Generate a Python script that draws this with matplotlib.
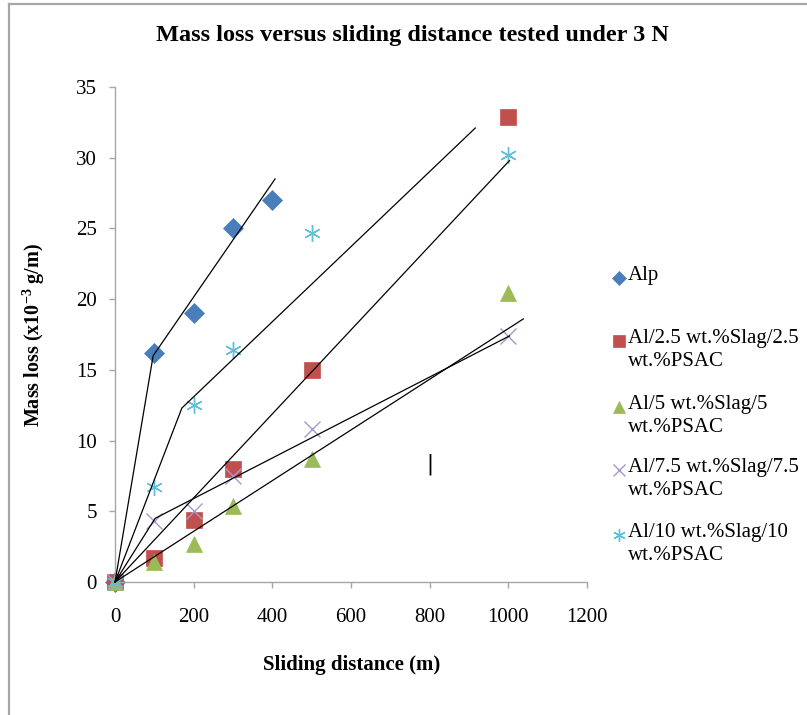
import matplotlib.pyplot as plt
from matplotlib.lines import Line2D

plt.rcParams['font.family'] = ['Liberation Serif', 'DejaVu Serif']
plt.rcParams['mathtext.fontset'] = 'custom'
plt.rcParams['mathtext.rm'] = 'Liberation Serif'
plt.rcParams['mathtext.bf'] = 'Liberation Serif:bold'

# measured points
alp_dist = [0, 100, 200, 300, 400]
alp_loss = [0, 16.2, 19.0, 25.0, 27.0]
dist = [0, 100, 200, 300, 500, 1000]
slag25_loss = [0, 1.7, 4.4, 8.0, 15.0, 32.9]
slag5_loss = [0, 1.4, 2.7, 5.4, 8.7, 20.4]
slag75_loss = [0, 4.3, 5.0, 7.5, 10.8, 17.4]
slag10_loss = [0, 6.7, 12.5, 16.4, 24.7, 30.2]

# hand drawn trend lines
alp_fit_x, alp_fit_y = [0, 97, 407], [0, 16.0, 28.5]
slag25_fit_x, slag25_fit_y = [0, 1003], [0, 29.8]
slag5_fit_x, slag5_fit_y = [0, 1038], [0, 18.6]
slag75_fit_x, slag75_fit_y = [0, 102, 1003], [0, 4.5, 17.4]
slag10_fit_x, slag10_fit_y = [0, 170, 916], [0, 12.3, 32.1]

labels = ['Alp',
          'Al/2.5 wt.%Slag/2.5\nwt.%PSAC',
          'Al/5 wt.%Slag/5\nwt.%PSAC',
          'Al/7.5 wt.%Slag/7.5\nwt.%PSAC',
          'Al/10 wt.%Slag/10\nwt.%PSAC']

series = [
    (alp_dist, alp_loss, 'D', '#4a7ebb', 10, 0),
    (dist, slag25_loss, 's', '#c0504d', 11.5, 0),
    (dist, slag5_loss, '^', '#9bbb59', 11, 0),
    (dist, slag75_loss, 'x', '#a898cc', 11, 1.0),
    (dist, slag10_loss, (6, 2, 0), '#5fbfd8', 12, 1.0),
]
fits = [(alp_fit_x, alp_fit_y), (slag25_fit_x, slag25_fit_y), (slag5_fit_x, slag5_fit_y),
        (slag75_fit_x, slag75_fit_y), (slag10_fit_x, slag10_fit_y)]

fig = plt.figure(figsize=(8.07, 7.15), dpi=100)
ax = fig.add_axes([115 / 807, 1 - 582 / 715, 472 / 807, 495 / 715])

for (x, y, m, c, ms, lw), lab in zip(series, labels):
    ax.plot(x, y, linestyle='none', marker=m, color=c, markersize=ms,
            markeredgewidth=lw if lw else 0.5, markeredgecolor=c, zorder=2, clip_on=False)
for fx, fy in fits:
    ax.plot(fx, fy, color='black', lw=0.9, zorder=3, clip_on=False)

ax.text(800, 8.3, '|', family='DejaVu Sans', fontsize=15, ha='center', va='center')

ax.set_xlim(0, 1200)
ax.set_ylim(0, 35)
ax.set_xticks(range(0, 1201, 200))
ax.set_yticks(range(0, 36, 5))
ax.spines['top'].set_visible(False)
ax.spines['right'].set_visible(False)
for s in ['left', 'bottom']:
    ax.spines[s].set_color('#a6a6a6')
    ax.spines[s].set_linewidth(1.0)
ax.tick_params(axis='both', colors='#a6a6a6', length=4, width=1.0, labelcolor='black', labelsize=15)
ax.tick_params(axis='x', pad=15)
ax.tick_params(axis='y', pad=9)

ax.set_xlabel('Sliding distance (m)', fontsize=15, fontweight='bold')
ax.xaxis.set_label_coords(0.502, -0.147)
ax.set_ylabel(r'Mass loss (x10$^{\mathbf{-3}}$ g/m)', fontsize=14.5, fontweight='bold')
ax.yaxis.set_label_coords(-0.144, 0.5)

fig.text(412 / 807, 1 - 36 / 715, 'Mass loss versus sliding distance tested under 3 N',
         fontsize=17.5, fontweight='bold', ha='center', va='center')

# legend, Excel style: marker beside first line of each label
entry_y = [278, 341, 407, 470, 535]
for (x, y, m, c, ms, lw), lab, py in zip(series, labels, entry_y):
    fy = 1 - py / 715
    fig.add_artist(Line2D([619 / 807], [fy], marker=m, color=c, markersize=ms * 0.75,
                          markeredgewidth=lw if lw else 0.5, markeredgecolor=c, linestyle='none'))
    fig.text(628 / 807, fy + 12 / 715, lab, fontsize=15, ha='left', va='top', linespacing=1.3)

# outer frame
fig.add_artist(Line2D([8.5 / 807, 8.5 / 807], [0, 1 - 4 / 715], color='#a6a6a6', lw=1.6))
fig.add_artist(Line2D([8.5 / 807, 1], [1 - 4 / 715, 1 - 4 / 715], color='#a6a6a6', lw=1.6))

fig.savefig('out.png', dpi=100)
